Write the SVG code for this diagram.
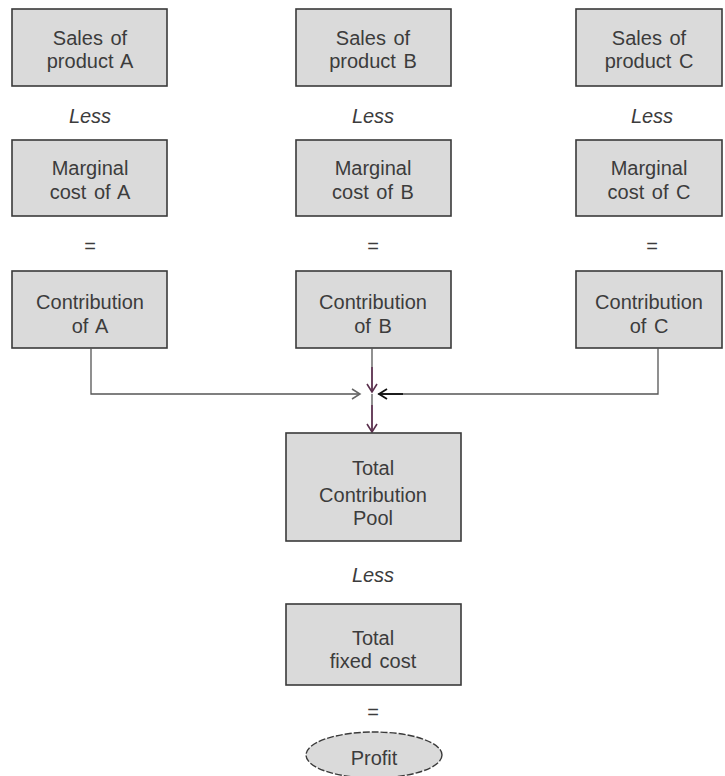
<svg xmlns="http://www.w3.org/2000/svg" width="725" height="776" viewBox="0 0 725 776">
<style>
.box{fill:#dadada;stroke:#3a3a3a;stroke-width:1.6}
.t{font-family:"Liberation Sans",Arial,sans-serif;font-size:20px;fill:#3c3c3c;text-anchor:middle;word-spacing:2px}
.i{font-style:italic}
.ln{fill:none;stroke:#555;stroke-width:1.3}
</style>
<defs>
<marker id="vg" markerWidth="12" markerHeight="12" refX="10" refY="6" orient="auto" markerUnits="userSpaceOnUse">
<path d="M2,1 L10,6 L2,11" fill="none" stroke="#666" stroke-width="1.5"/>
</marker>
<marker id="vp" markerWidth="12" markerHeight="12" refX="10" refY="6" orient="auto" markerUnits="userSpaceOnUse">
<path d="M2,1 L10,6 L2,11" fill="none" stroke="#5a2f4d" stroke-width="1.6"/>
</marker>
<marker id="vb" markerWidth="12" markerHeight="12" refX="10" refY="6" orient="auto" markerUnits="userSpaceOnUse">
<path d="M2,1 L10,6 L2,11" fill="none" stroke="#111" stroke-width="1.8"/>
</marker>
</defs>
<rect width="725" height="776" fill="#fff"/>

<g id="salesA"><rect class="box" x="12" y="9" width="155" height="77"/><text class="t" x="90" y="45">Sales of</text><text class="t" x="90" y="68">product A</text></g>
<g id="salesB"><rect class="box" x="296" y="9" width="155" height="77"/><text class="t" x="373" y="45">Sales of</text><text class="t" x="373" y="68">product B</text></g>
<g id="salesC"><rect class="box" x="576" y="9" width="146" height="77"/><text class="t" x="649" y="45">Sales of</text><text class="t" x="649" y="68">product C</text></g>

<g id="lessRow1">
<text class="t i" x="90" y="123">Less</text>
<text class="t i" x="373" y="123">Less</text>
<text class="t i" x="652" y="123">Less</text>
</g>

<g id="mcA"><rect class="box" x="12" y="140" width="155" height="76"/><text class="t" x="90" y="175">Marginal</text><text class="t" x="90" y="199">cost of A</text></g>
<g id="mcB"><rect class="box" x="296" y="140" width="155" height="76"/><text class="t" x="373" y="175">Marginal</text><text class="t" x="373" y="199">cost of B</text></g>
<g id="mcC"><rect class="box" x="576" y="140" width="146" height="76"/><text class="t" x="649" y="175">Marginal</text><text class="t" x="649" y="199">cost of C</text></g>

<g id="eqRow">
<text class="t" x="90" y="253">=</text>
<text class="t" x="373" y="253">=</text>
<text class="t" x="652" y="253">=</text>
</g>

<g id="contA"><rect class="box" x="12" y="271" width="155" height="77"/><text class="t" x="90" y="309">Contribution</text><text class="t" x="90" y="333">of A</text></g>
<g id="contB"><rect class="box" x="296" y="271" width="155" height="77"/><text class="t" x="373" y="309">Contribution</text><text class="t" x="373" y="333">of B</text></g>
<g id="contC"><rect class="box" x="576" y="271" width="146" height="77"/><text class="t" x="649" y="309">Contribution</text><text class="t" x="649" y="333">of C</text></g>

<g id="connectors">
<path class="ln" d="M91,348 V394 H360" marker-end="url(#vg)"/>
<path class="ln" d="M658,348 V394 H378"/>
<path d="M403,394 H379" fill="none" stroke="#111" stroke-width="1.8" marker-end="url(#vb)"/>
<path class="ln" d="M372,348 V367"/>
<path d="M372,367 V392" fill="none" stroke="#5a2f4d" stroke-width="1.8" marker-end="url(#vp)"/>
<path class="ln" d="M372,394 V405"/>
<path d="M372,405 V432" fill="none" stroke="#5a2f4d" stroke-width="1.8" marker-end="url(#vp)"/>
</g>

<g id="tcp"><rect class="box" x="286" y="433" width="175" height="108"/><text class="t" x="373" y="475">Total</text><text class="t" x="373" y="502">Contribution</text><text class="t" x="373" y="525">Pool</text></g>

<text class="t i" x="373" y="582">Less</text>

<g id="tfc"><rect class="box" x="286" y="604" width="175" height="81"/><text class="t" x="373" y="645">Total</text><text class="t" x="373" y="668">fixed cost</text></g>

<text class="t" x="373" y="719">=</text>

<g id="profit"><ellipse cx="374" cy="755" rx="68" ry="23" fill="#dadada" stroke="#3a3a3a" stroke-width="1.4" stroke-dasharray="7,2"/><text class="t" x="374" y="765">Profit</text></g>
</svg>
